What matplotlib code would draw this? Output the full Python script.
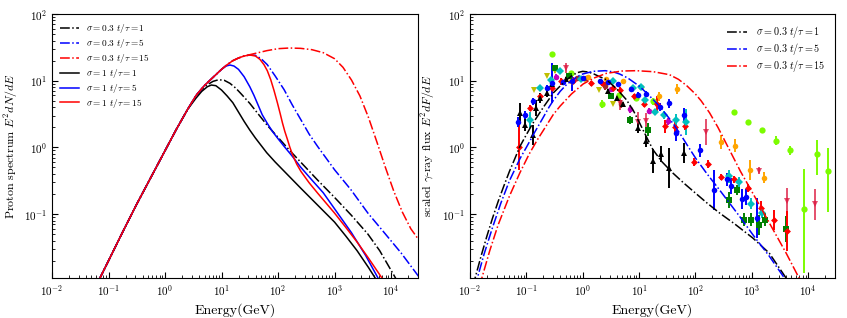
import numpy as np
import matplotlib
matplotlib.use("Agg")
import matplotlib.pyplot as plt

plt.rcParams['font.family'] = 'serif'
plt.rcParams['font.serif'] = ['cmr10', 'DejaVu Serif']
plt.rcParams['mathtext.fontset'] = 'cm'
plt.rcParams['axes.formatter.use_mathtext'] = True
plt.rcParams['axes.unicode_minus'] = False

# ---------------- Left panel: proton spectra (log10 E, log10 y) ----------------
rise_lx = [-1.3, -1.152, -1.0, -0.75, -0.5, -0.25, 0.0, 0.2, 0.4]
rise_ly = [-2.22, -1.96, -1.70, -1.27, -0.85, -0.45, -0.05, 0.27, 0.57]

p03_t1_lx = [0.55, 0.65, 0.75, 0.85, 0.95, 1.05, 1.15, 1.25, 1.35, 1.5, 1.65, 1.81, 2.0, 2.2, 2.4, 2.7, 3.0, 3.3, 3.59, 3.8, 4.08, 4.2]
p03_t1_ly = [0.77, 0.87, 0.94, 0.99, 1.015, 1.005, 0.96, 0.89, 0.80, 0.66, 0.50, 0.33, 0.15, -0.04, -0.22, -0.49, -0.75, -1.02, -1.30, -1.55, -1.96, -2.15]

p03_t5_lx = [0.55, 0.7, 0.85, 1.0, 1.1, 1.2, 1.3, 1.4, 1.5, 1.6, 1.7, 1.81, 1.95, 2.108, 2.25, 2.404, 2.55, 2.7, 2.85, 3.0, 3.29, 3.59, 3.886, 4.18, 4.51, 4.6]
p03_t5_ly = [0.78, 0.93, 1.05, 1.17, 1.24, 1.30, 1.34, 1.37, 1.385, 1.38, 1.33, 1.24, 1.07, 0.865, 0.64, 0.415, 0.20, 0.015, -0.16, -0.335, -0.635, -0.985, -1.285, -1.585, -1.96, -2.06]

p03_t15_lx = [0.55, 0.7, 0.85, 1.0, 1.1, 1.2, 1.3, 1.4, 1.5, 1.6, 1.8, 2.0, 2.2, 2.4, 2.6, 2.8, 3.0, 3.15, 3.3, 3.45, 3.6, 3.75, 3.9, 4.05, 4.2, 4.35, 4.51]
p03_t15_ly = [0.78, 0.93, 1.05, 1.17, 1.24, 1.30, 1.34, 1.37, 1.39, 1.41, 1.45, 1.48, 1.49, 1.485, 1.465, 1.42, 1.33, 1.20, 1.01, 0.77, 0.45, 0.08, -0.30, -0.66, -0.97, -1.22, -1.41]

p1_t1_lx = [0.55, 0.65, 0.75, 0.82, 0.9, 1.0, 1.1, 1.2, 1.3, 1.4, 1.5, 1.6, 1.7, 1.8, 1.95, 2.1, 2.25, 2.4, 2.6, 2.8, 3.0, 3.2, 3.4, 3.6, 3.72, 3.85]
p1_t1_ly = [0.74, 0.84, 0.91, 0.935, 0.925, 0.86, 0.77, 0.67, 0.53, 0.39, 0.26, 0.14, 0.03, -0.08, -0.22, -0.35, -0.48, -0.61, -0.78, -0.95, -1.12, -1.33, -1.55, -1.80, -1.96, -2.12]

p1_t5_lx = [0.55, 0.7, 0.85, 1.0, 1.08, 1.15, 1.22, 1.3, 1.4, 1.5, 1.574, 1.65, 1.72, 1.81, 1.9, 2.0, 2.108, 2.25, 2.404, 2.6, 2.8, 3.0, 3.3, 3.55, 3.77, 3.9]
p1_t5_ly = [0.78, 0.93, 1.05, 1.17, 1.22, 1.235, 1.22, 1.17, 1.06, 0.91, 0.78, 0.63, 0.49, 0.36, 0.24, 0.13, 0.015, -0.13, -0.30, -0.49, -0.68, -0.92, -1.28, -1.62, -1.96, -2.15]

p1_t15_lx = [0.55, 0.7, 0.85, 1.0, 1.1, 1.2, 1.3, 1.4, 1.5, 1.6, 1.68, 1.752, 1.81, 1.871, 1.93, 1.99, 2.04, 2.079, 2.12, 2.168, 2.21, 2.257, 2.33, 2.405, 2.55, 2.7, 2.85, 3.0, 3.2, 3.4, 3.6, 3.84, 3.95]
p1_t15_ly = [0.78, 0.93, 1.05, 1.17, 1.24, 1.30, 1.34, 1.37, 1.385, 1.37, 1.32, 1.24, 1.15, 1.015, 0.85, 0.665, 0.50, 0.365, 0.24, 0.115, 0.0, -0.11, -0.25, -0.36, -0.53, -0.685, -0.835, -0.985, -1.20, -1.42, -1.66, -1.96, -2.1]

# ---------------- Right panel: gamma-ray model curves (log10 E, log10 y) ----------------
g_t1_lx = [-1.95, -1.91, -1.8, -1.7, -1.6, -1.5, -1.4, -1.3, -1.2, -1.114, -1.0, -0.9, -0.8, -0.7, -0.6, -0.524, -0.4, -0.3, -0.2, -0.1, 0.0, 0.1, 0.2, 0.3, 0.42, 0.6, 0.775, 0.9, 1.01, 1.13, 1.247, 1.4, 1.6, 1.8, 2.0, 2.2, 2.43, 2.7, 3.02, 3.31, 3.61, 3.7]
g_t1_ly = [-2.08, -1.96, -1.62, -1.33, -1.06, -0.81, -0.58, -0.36, -0.16, 0.015, 0.19, 0.34, 0.47, 0.60, 0.72, 0.815, 0.92, 1.0, 1.07, 1.12, 1.14, 1.13, 1.10, 1.06, 1.015, 0.88, 0.715, 0.55, 0.365, 0.16, -0.035, -0.21, -0.385, -0.54, -0.685, -0.83, -0.985, -1.15, -1.36, -1.585, -1.96, -2.1]

g_t5_lx = [-1.91, -1.87, -1.75, -1.6, -1.45, -1.3, -1.114, -1.0, -0.85, -0.7, -0.6, -0.524, -0.4, -0.3, -0.2, -0.1, 0.0, 0.184, 0.4, 0.55, 0.656, 0.8, 1.01, 1.2, 1.365, 1.55, 1.72, 1.85, 2.01, 2.2, 2.43, 2.6, 2.78, 3.02, 3.31, 3.58, 3.7]
g_t5_ly = [-2.1, -1.96, -1.6, -1.2, -0.83, -0.5, -0.17, 0.0, 0.23, 0.45, 0.60, 0.70, 0.84, 0.93, 1.0, 1.06, 1.10, 1.14, 1.15, 1.13, 1.10, 1.04, 0.915, 0.76, 0.615, 0.42, 0.215, 0.04, -0.17, -0.39, -0.64, -0.83, -1.03, -1.31, -1.63, -1.96, -2.1]

g_t15_lx = [-1.83, -1.79, -1.65, -1.5, -1.3, -1.114, -0.95, -0.8, -0.65, -0.524, -0.4, -0.2, 0.007, 0.2, 0.42, 0.7, 0.95, 1.25, 1.54, 1.7, 1.84, 2.0, 2.1, 2.25, 2.4, 2.6, 2.8, 3.02, 3.31, 3.61, 3.84, 3.95]
g_t15_ly = [-2.08, -1.96, -1.55, -1.16, -0.73, -0.38, -0.10, 0.12, 0.32, 0.49, 0.62, 0.80, 0.95, 1.04, 1.11, 1.145, 1.15, 1.135, 1.09, 1.02, 0.93, 0.80, 0.70, 0.52, 0.30, -0.03, -0.36, -0.69, -1.13, -1.585, -1.96, -2.12]

# ---------------- Right panel: measured points (E [GeV], flux, error in dex) ----------------
blue_E = [0.070, 0.095, 0.13, 0.237, 0.28, 0.45, 0.65, 1.0, 2.0, 2.8, 4.3, 7.1, 9.5, 13.5, 23.7, 34, 46, 63, 120, 214, 363, 427, 676, 794, 1230]
blue_F = [2.4, 3.1, 4.9, 7.8, 9.2, 9.4, 10, 11, 10, 9.4, 8.9, 7.5, 6.2, 6.3, 4.1, 4.6, 1.64, 3.1, 0.9, 0.23, 0.33, 0.26, 0.17, 0.18, 0.087]
blue_e = [0.08, 0.06, 0.05, 0.05, 0.3, 0.04, 0.15, 0.03, 0.03, 0.03, 0.03, 0.03, 0.04, 0.04, 0.06, 0.07, 0.12, 0.1, 0.1, 0.3, 0.1, 0.12, 0.15, 0.12, 0.3]

black_E = [0.077, 0.095, 0.13, 0.15, 0.174, 0.237, 0.28, 0.5, 2.8, 4.0, 5.2, 9.5, 13.5, 17.8, 24.5, 34, 63]
black_F = [3.3, 2.2, 1.55, 3.9, 5.5, 6.5, 8.9, 10.5, 6.9, 5.5, 4.4, 1.95, 1.23, 0.62, 0.8, 0.49, 0.82]
black_e = [0.15, 0.1, 0.15, 0.12, 0.08, 0.05, 0.05, 0.03, 0.03, 0.03, 0.04, 0.08, 0.08, 0.18, 0.12, 0.3, 0.15]

red_E = [0.074, 0.116, 0.174, 0.29, 0.42, 0.68, 1.38, 2.24, 3.4, 4.6, 8.1, 12, 20.4, 29, 43, 65, 95, 166, 282, 490, 851, 1460, 2510, 4270]
red_F = [1.03, 3.9, 5.8, 7.9, 9.8, 10, 9.1, 9.2, 7.8, 7.3, 5.8, 4.5, 4.4, 2.07, 2.0, 2.1, 0.6, 0.57, 0.36, 0.33, 0.245, 0.123, 0.082, 0.055]
red_e = [0.35, 0.05, 0.05, 0.2, 0.05, 0.05, 0.04, 0.04, 0.04, 0.04, 0.04, 0.05, 0.12, 0.1, 0.08, 0.06, 0.06, 0.06, 0.05, 0.05, 0.06, 0.1, 0.15, 0.3]

crim_E = [0.5, 4.5, 9.5, 13.5, 20.4, 155, 1365, 4270, 13500]
crim_F = [15.5, 4.6, 2.4, 2.5, 4.2, 1.7, 0.45, 0.155, 0.14]
crim_e = [0.08, 0.1, 0.15, 0.12, 0.1, 0.2, 0.05, 0.2, 0.23]

cyan_E = [0.116, 0.174, 0.27, 0.39, 0.93, 3.5, 7.8, 11, 12.6, 19, 28, 45, 68, 400, 600, 980, 1550]
cyan_F = [2.6, 7.9, 10.4, 13.8, 10.7, 9.8, 7.8, 8.0, 5.2, 3.4, 3.1, 2.6, 2.4, 0.37, 0.3, 0.143, 0.104]
cyan_e = [0.12, 0.04, 0.04, 0.04, 0.03, 0.03, 0.03, 0.03, 0.04, 0.05, 0.06, 0.08, 0.2, 0.1, 0.08, 0.08, 0.07]

green_E = [0.32, 0.56, 3.2, 6.8, 14.5, 400, 540, 724, 980, 1320, 1740, 4070]
green_F = [15.5, 11.6, 5.8, 2.6, 1.84, 0.164, 0.23, 0.082, 0.082, 0.069, 0.082, 0.06]
green_e = [0.04, 0.03, 0.03, 0.06, 0.1, 0.12, 0.08, 0.1, 0.1, 0.15, 0.1, 0.2]

lime_E = [0.287, 0.63, 2.24, 4.4, 8.9, 17.8, 486, 851, 1510, 2690, 4840, 8500, 14100, 22900]
lime_F = [25, 13, 4.5, 6.2, 5.5, 4.9, 3.4, 2.4, 1.8, 1.26, 0.9, 0.12, 0.8, 0.45]
lime_elo = [0.0, 0.03, 0.06, 0.03, 0.04, 0.05, 0.02, 0.03, 0.04, 0.07, 0.07, 0.97, 0.32, 0.62]
lime_ehi = [0.0, 0.03, 0.06, 0.03, 0.04, 0.05, 0.02, 0.03, 0.04, 0.07, 0.07, 0.60, 0.21, 0.33]

orange_E = [0.63, 1.26, 2.6, 5.2, 11, 23, 48, 288, 513, 933, 1620]
orange_F = [9.8, 11.2, 10.7, 9.8, 8.0, 5.8, 7.5, 1.2, 1.06, 0.46, 0.35]
orange_e = [0.03, 0.03, 0.03, 0.03, 0.04, 0.07, 0.07, 0.1, 0.1, 0.15, 0.08]

mag_E = [0.33, 0.68, 3.2, 6.8, 15, 32]
mag_F = [11.3, 10.4, 7.5, 3.7, 3.5, 2.45]
mag_e = [0.04, 0.03, 0.03, 0.05, 0.05, 0.05]

olive_E = [0.138, 0.23, 0.32, 1.12, 1.95, 3.4]
olive_F = [7.3, 11.9, 13.8, 10.4, 7.3, 4.5]
olive_e = [0.02, 0.02, 0.02, 0.02, 0.02, 0.02]

brown_E = [0.78, 1.13, 2.45, 4.7]
brown_F = [11, 11, 8.4, 4.5]
brown_e = [0.03, 0.03, 0.06, 0.06]

labels = [r'$\sigma = 0.3\ t/\tau = 1$', r'$\sigma = 0.3\ t/\tau = 5$', r'$\sigma = 0.3\ t/\tau = 15$',
          r'$\sigma = 1\ t/\tau = 1$', r'$\sigma = 1\ t/\tau = 5$', r'$\sigma = 1\ t/\tau = 15$']

fig = plt.figure(figsize=(8.47, 3.18), dpi=100)
axL = fig.add_axes([52/847, 40/318, 366/847, 264/318])
axR = fig.add_axes([470/847, 40/318, 365/847, 264/318])


def curve(lx_tail, ly_tail, with_rise=True):
    lx = (rise_lx if with_rise else []) + lx_tail
    ly = (rise_ly if with_rise else []) + ly_tail
    return 10 ** np.array(lx), 10 ** np.array(ly)


lw = 1.1
for (lx, ly), col, ls, lab in [((p03_t1_lx, p03_t1_ly), 'k', '-.', labels[0]),
                               ((p03_t5_lx, p03_t5_ly), 'b', '-.', labels[1]),
                               ((p03_t15_lx, p03_t15_ly), 'r', '-.', labels[2]),
                               ((p1_t1_lx, p1_t1_ly), 'k', '-', labels[3]),
                               ((p1_t5_lx, p1_t5_ly), 'b', '-', labels[4]),
                               ((p1_t15_lx, p1_t15_ly), 'r', '-', labels[5])]:
    x, y = curve(lx, ly)
    axL.plot(x, y, color=col, ls=ls, lw=lw, label=lab)

axL.set_ylabel(r'Proton spectrum $E^2dN/dE$', fontsize=8.6)


def pts(E, F, elo, ehi, color, marker, ms=4, alpha=1.0):
    F = np.array(F, dtype=float)
    lo = F - F / 10 ** np.array(elo)
    hi = F * 10 ** np.array(ehi) - F
    axR.errorbar(E, F, yerr=[lo, hi], fmt=marker, color=color, ms=ms, elinewidth=1.4,
                 capsize=0, mew=0, alpha=alpha, zorder=2)


pts(olive_E, olive_F, olive_e, olive_e, 'y', 'v')
pts(brown_E, brown_F, brown_e, brown_e, '#a52a2a', 'o')
pts(mag_E, mag_F, mag_e, mag_e, 'm', 'o')
pts(orange_E, orange_F, orange_e, orange_e, 'orange', 'o')
pts(lime_E, lime_F, lime_elo, lime_ehi, 'lawngreen', 'o', ms=4.5)
pts(green_E, green_F, green_e, green_e, 'green', 's')
pts(crim_E, crim_F, crim_e, crim_e, 'crimson', 'v', alpha=0.75)
pts(red_E, red_F, red_e, red_e, 'red', 'D', ms=3.5)
pts(black_E, black_F, black_e, black_e, 'black', '^')
pts(cyan_E, cyan_F, cyan_e, cyan_e, 'c', 'D', ms=4.5)
pts(blue_E, blue_F, blue_e, blue_e, 'blue', 'o')

for (lx, ly), col, lab in [((g_t1_lx, g_t1_ly), 'k', labels[0]),
                          ((g_t5_lx, g_t5_ly), 'b', labels[1]),
                          ((g_t15_lx, g_t15_ly), 'r', labels[2])]:
    x, y = curve(lx, ly, with_rise=False)
    axR.plot(x, y, color=col, ls='-.', lw=lw, label=lab, zorder=3)

axR.set_ylabel(r'scaled $\gamma$-ray flux $E^2dF/dE$', fontsize=8.6)

for ax in (axL, axR):
    ax.set_xscale('log')
    ax.set_yscale('log')
    ax.set_xlim(1e-2, 3e4)
    ax.set_ylim(1.1e-2, 1e2)
    ax.set_xlabel('Energy(GeV)', fontsize=10)
    ax.tick_params(which='both', direction='in', labelsize=8)
    ax.tick_params(which='major', length=4)
    ax.tick_params(which='minor', length=2)

axL.yaxis.set_label_coords(-0.088, 0.5)
axR.yaxis.set_label_coords(-0.09, 0.5)

axL.legend(loc='upper left', frameon=False, fontsize=6.7, handlelength=2.0, handletextpad=0.8,
           labelspacing=0.2, borderaxespad=0.5)
axR.legend(loc='upper right', frameon=False, fontsize=7.3, handlelength=2.0, handletextpad=0.8,
           labelspacing=0.1, borderaxespad=0.6)

fig.savefig('out.png', dpi=100)
